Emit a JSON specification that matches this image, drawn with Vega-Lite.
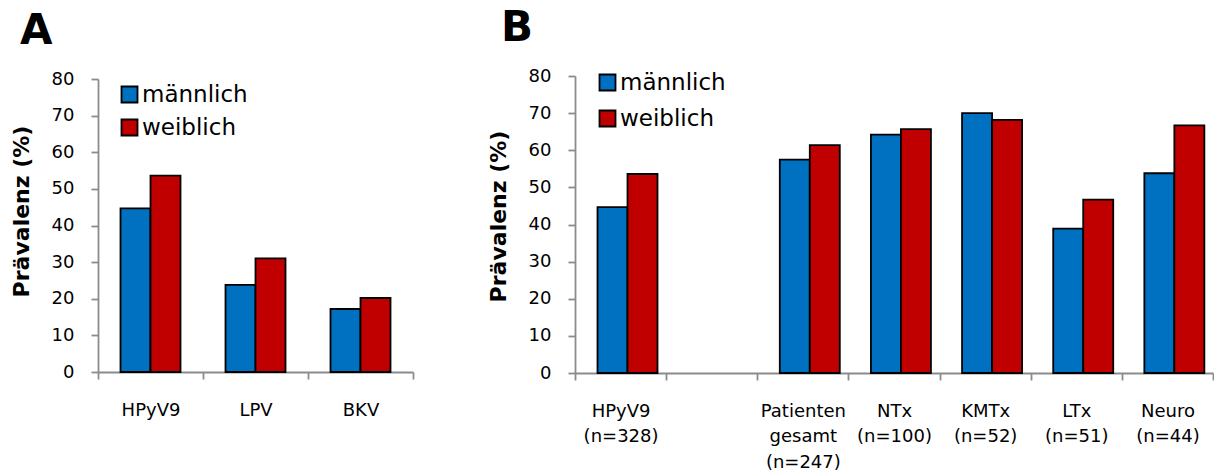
{
  "$schema": "https://vega.github.io/schema/vega-lite/v6.json",
  "background": "white",
  "padding": {"left": 10, "top": 7, "right": 0, "bottom": 0},
  "config": {
    "view": {"stroke": null},
    "font": "DejaVu Sans",
    "axis": {
      "domainColor": "#8c8c8c",
      "domainWidth": 1.8,
      "tickColor": "#8c8c8c",
      "tickWidth": 1.8,
      "tickSize": 7,
      "labelColor": "#000000",
      "labelFont": "DejaVu Sans",
      "labelFontSize": 18,
      "titleFont": "DejaVu Sans",
      "titleFontSize": 22,
      "titleFontWeight": "bold",
      "titleColor": "#000000",
      "grid": false
    },
    "legend": {
      "orient": "none",
      "title": null,
      "padding": 0,
      "symbolType": "square",
      "symbolSize": 256,
      "symbolStrokeColor": "#000000",
      "symbolStrokeWidth": 1.8,
      "symbolOpacity": 1,
      "labelFont": "DejaVu Sans",
      "labelFontSize": 23,
      "labelColor": "#000000",
      "labelOffset": 1
    },
    "title": {
      "anchor": "start",
      "frame": "group",
      "baseline": "alphabetic",
      "font": "DejaVu Sans",
      "fontSize": 42,
      "fontWeight": "bold",
      "color": "#000000"
    },
    "bar": {"stroke": "#000000", "strokeWidth": 1.8}
  },
  "datasets": {
    "viren": [
      {"virus": "HPyV9", "geschlecht": "männlich", "praevalenz": 44.7},
      {"virus": "HPyV9", "geschlecht": "weiblich", "praevalenz": 53.6},
      {"virus": "LPV", "geschlecht": "männlich", "praevalenz": 23.8},
      {"virus": "LPV", "geschlecht": "weiblich", "praevalenz": 31.0},
      {"virus": "BKV", "geschlecht": "männlich", "praevalenz": 17.2},
      {"virus": "BKV", "geschlecht": "weiblich", "praevalenz": 20.2}
    ],
    "gruppen": [
      {"gruppe": "HPyV9|(n=328)", "geschlecht": "männlich", "praevalenz": 44.7},
      {"gruppe": "HPyV9|(n=328)", "geschlecht": "weiblich", "praevalenz": 53.6},
      {"gruppe": "Patienten|gesamt|(n=247)", "geschlecht": "männlich", "praevalenz": 57.5},
      {"gruppe": "Patienten|gesamt|(n=247)", "geschlecht": "weiblich", "praevalenz": 61.4},
      {"gruppe": "NTx|(n=100)", "geschlecht": "männlich", "praevalenz": 64.2},
      {"gruppe": "NTx|(n=100)", "geschlecht": "weiblich", "praevalenz": 65.7},
      {"gruppe": "KMTx|(n=52)", "geschlecht": "männlich", "praevalenz": 70.0},
      {"gruppe": "KMTx|(n=52)", "geschlecht": "weiblich", "praevalenz": 68.2},
      {"gruppe": "LTx|(n=51)", "geschlecht": "männlich", "praevalenz": 38.9},
      {"gruppe": "LTx|(n=51)", "geschlecht": "weiblich", "praevalenz": 46.7},
      {"gruppe": "Neuro|(n=44)", "geschlecht": "männlich", "praevalenz": 53.8},
      {"gruppe": "Neuro|(n=44)", "geschlecht": "weiblich", "praevalenz": 66.7}
    ]
  },
  "spacing": 73,
  "resolve": {"scale": {"color": "independent"}},
  "hconcat": [
    {
      "title": {"text": "A", "dx": -78, "offset": 17},
      "width": 315,
      "height": 296,
      "data": {"name": "viren"},
      "mark": {"type": "bar"},
      "encoding": {
        "x": {
          "field": "virus",
          "type": "nominal",
          "sort": ["HPyV9", "LPV", "BKV"],
          "scale": {"paddingInner": 0, "paddingOuter": 0},
          "axis": {"title": null, "labelAngle": 0, "tickBand": "extent", "labelPadding": 22}
        },
        "xOffset": {
          "field": "geschlecht",
          "type": "nominal",
          "scale": {"paddingInner": 0, "paddingOuter": 0.75}
        },
        "y": {
          "field": "praevalenz",
          "type": "quantitative",
          "scale": {"domain": [0, 80], "nice": false, "range": [296, 3]},
          "axis": {
            "title": "Prävalenz (%)",
            "values": [0, 10, 20, 30, 40, 50, 60, 70, 80],
            "labelPadding": 17,
            "titlePadding": 18,
            "titleY": 135
          }
        },
        "color": {
          "field": "geschlecht",
          "type": "nominal",
          "scale": {"domain": ["männlich", "weiblich"], "range": ["#0070c0", "#c00000"]},
          "legend": {"legendX": 20, "legendY": 7, "rowPadding": 8}
        }
      }
    },
    {
      "title": {"text": "B", "dx": -74, "offset": 17},
      "width": 638,
      "height": 297,
      "data": {"name": "gruppen"},
      "mark": {"type": "bar"},
      "encoding": {
        "x": {
          "field": "gruppe",
          "type": "nominal",
          "scale": {
            "domain": ["HPyV9|(n=328)", " ", "Patienten|gesamt|(n=247)", "NTx|(n=100)", "KMTx|(n=52)", "LTx|(n=51)", "Neuro|(n=44)"],
            "paddingInner": 0,
            "paddingOuter": 0
          },
          "axis": {
            "title": null,
            "labelAngle": 0,
            "tickBand": "extent",
            "labelPadding": 22,
            "labelLineHeight": 25.5,
            "labelExpr": "split(datum.label, '|')"
          }
        },
        "xOffset": {
          "field": "geschlecht",
          "type": "nominal",
          "scale": {"paddingInner": 0, "paddingOuter": 0.74}
        },
        "y": {
          "field": "praevalenz",
          "type": "quantitative",
          "scale": {"domain": [0, 80], "nice": false},
          "axis": {
            "title": "Prävalenz (%)",
            "values": [0, 10, 20, 30, 40, 50, 60, 70, 80],
            "labelPadding": 17,
            "titlePadding": 18,
            "titleY": 140
          }
        },
        "color": {
          "field": "geschlecht",
          "type": "nominal",
          "scale": {"domain": ["männlich", "weiblich"], "range": ["#0070c0", "#c00000"]},
          "legend": {"legendX": 21, "legendY": -5, "rowPadding": 11}
        }
      }
    }
  ]
}
